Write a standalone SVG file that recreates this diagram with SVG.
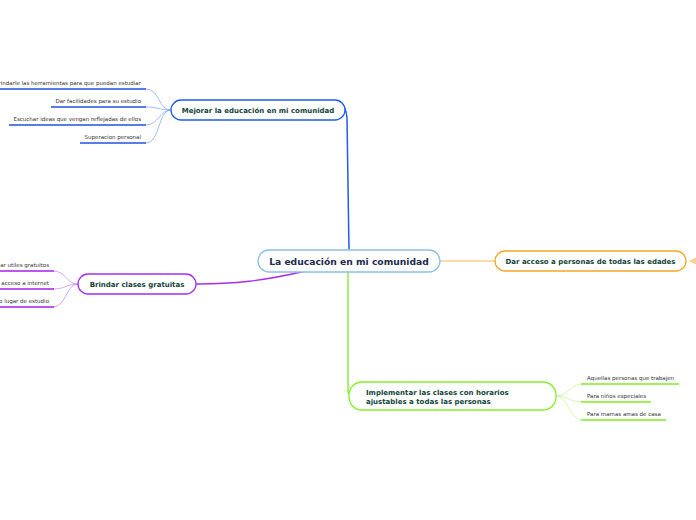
<svg xmlns="http://www.w3.org/2000/svg" width="696" height="520" viewBox="0 0 696 520">
<style>
.node{fill:#fff;stroke-width:1.3}
.t{font-family:Verdana,"DejaVu Sans",sans-serif;font-weight:bold;font-size:7px;fill:#12443a}
.s{font-family:Verdana,"DejaVu Sans",sans-serif;font-size:5.5px;fill:#333}
.c{fill:none}
</style>
<rect width="696" height="520" fill="#fff"/>
<g id="connectors">
  <path class="c" d="M349,251 L347,118 Q346,106 340,102" stroke="#1f5cf0" stroke-width="1.5"/>
  <path class="c" stroke="#7aa0f5" stroke-width="0.7" d="M146,89 C160,89 158,110 171,110 M146,107 C158,107 160,110 171,110 M146,125 C158,125 160,110 171,110 M146,143 C160,143 158,110 171,110"/>
  <g stroke="#2050e0" stroke-width="1.3">
    <line x1="0" y1="89" x2="146" y2="89"/>
    <line x1="51" y1="107" x2="146" y2="107"/>
    <line x1="9" y1="125" x2="146" y2="125"/>
    <line x1="80" y1="143" x2="146" y2="143"/>
  </g>
  <path class="c" d="M306,271 C262,281 235,284 196,284" stroke="#a82cf0" stroke-width="1.3"/>
  <path class="c" stroke="#c880f5" stroke-width="0.7" d="M53,271 C66,271 66,284 78,284 M53,289 C66,289 66,284 78,284 M53,307 C66,307 66,284 78,284"/>
  <g stroke="#a020e8" stroke-width="1.3">
    <line x1="0" y1="271" x2="54" y2="271"/>
    <line x1="0" y1="289" x2="54" y2="289"/>
    <line x1="0" y1="307" x2="54" y2="307"/>
  </g>
  <line x1="440" y1="261" x2="495" y2="261" stroke="#f5a623" stroke-width="0.8"/>
  <path d="M689,261 L696,257.5 L696,264.5 Z" fill="#fbd08a"/>
  <path class="c" d="M348,272 L348,390 Q348,396 352,396" stroke="#8cf03c" stroke-width="1.5"/>
  <path class="c" stroke="#c0f890" stroke-width="0.7" d="M556,396 C568,396 570,384 582,384 M556,396 C568,396 570,402 582,402 M556,396 C568,396 570,420 582,420"/>
  <g stroke="#80ee20" stroke-width="1.3">
    <line x1="581" y1="384" x2="679" y2="384"/>
    <line x1="581" y1="402" x2="651" y2="402"/>
    <line x1="581" y1="420" x2="666" y2="420"/>
  </g>
</g>
<g id="central">
  <rect class="node" x="258" y="250" width="182" height="22" rx="11" stroke="#8ec0e6"/>
  <text x="349" y="264.5" text-anchor="middle" style="font-family:Verdana,'DejaVu Sans',sans-serif;font-weight:bold;font-size:9.2px;fill:#1c2b4e">La educación en mi comunidad</text>
</g>
<g id="mejorar">
  <rect class="node" x="171" y="100" width="174" height="20" rx="10" stroke="#1f5cf0"/>
  <text class="t" x="258" y="112.5" text-anchor="middle">Mejorar la educación en mi comunidad</text>
</g>
<g id="mejorar-items">
  <text class="s" x="141" y="85" text-anchor="end">Brindarle las herramientas para que puedan estudiar</text>
  <text class="s" x="141" y="103" text-anchor="end">Dar facilidades para su estudio</text>
  <text class="s" x="141" y="121" text-anchor="end">Escuchar ideas que vengan reflejadas de ellos</text>
  <text class="s" x="141" y="139" text-anchor="end">Superacion personal</text>
</g>
<g id="brindar">
  <rect class="node" x="78" y="274" width="118" height="20" rx="10" stroke="#a82cf0"/>
  <text class="t" x="137" y="286.5" text-anchor="middle">Brindar clases gratuitas</text>
</g>
<g id="brindar-items">
  <text class="s" x="49" y="267" text-anchor="end">ar utiles gratuitos</text>
  <text class="s" x="49" y="285" text-anchor="end">r acceso a internet</text>
  <text class="s" x="49" y="303" text-anchor="end">o lugar de estudio</text>
</g>
<g id="acceso">
  <rect class="node" x="495" y="251" width="191" height="20" rx="10" stroke="#f5a623"/>
  <text class="t" x="590.5" y="263.5" text-anchor="middle">Dar acceso a personas de todas las edades</text>
</g>
<g id="implementar">
  <rect class="node" x="349" y="382" width="207" height="28" rx="13" stroke="#84f028"/>
  <text class="t" x="366" y="394.5">Implementar las clases con horarios</text>
  <text class="t" x="366" y="403.5">ajustables a todas las personas</text>
</g>
<g id="implementar-items">
  <text class="s" x="587" y="380">Aquellas personas que trabajen</text>
  <text class="s" x="587" y="398">Para niños especiales</text>
  <text class="s" x="587" y="416">Para mamas amas de casa</text>
</g>
</svg>
